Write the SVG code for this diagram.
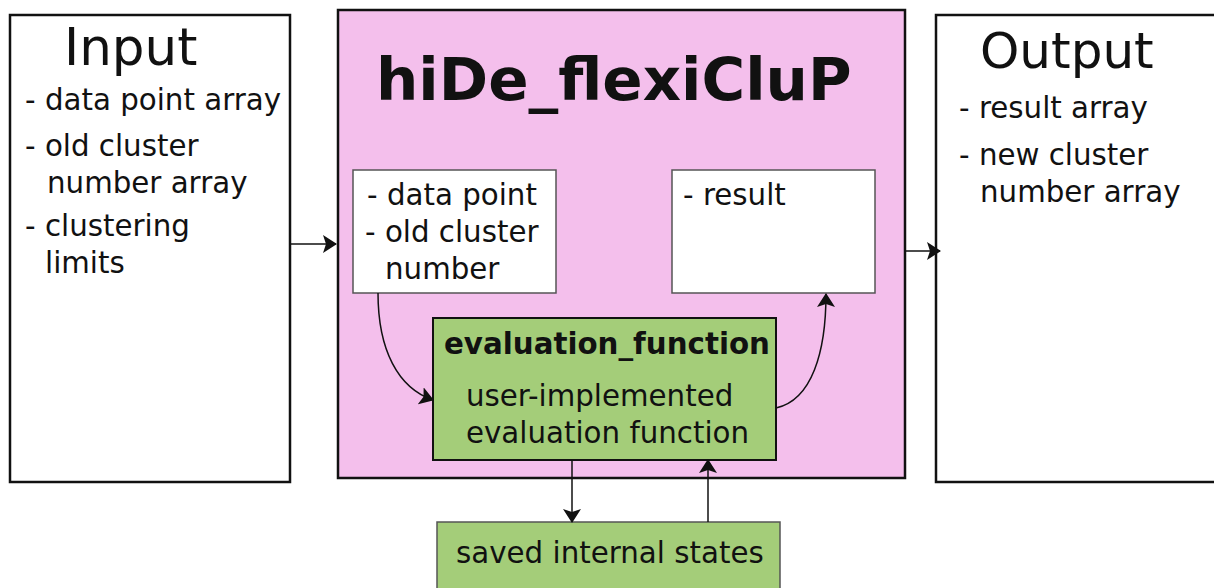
<svg xmlns="http://www.w3.org/2000/svg" width="1214" height="588" viewBox="0 0 1214 588">
  <style>
    text { font-family: "DejaVu Sans", Verdana, sans-serif; fill: #111; }
    .big { font-size: 50px; }
    .title { font-size: 59.5px; font-weight: bold; }
    .item { font-size: 29.3px; }
    .bold { font-size: 29.3px; font-weight: bold; }
    .outer { stroke: #111; stroke-width: 2.5; }
    .inner { stroke: #555; stroke-width: 1.5; }
    .conn { fill: none; stroke: #111; stroke-width: 1.5; }
  </style>
  <defs>
    <marker id="arrowWide" viewBox="0 0 14 18" refX="13" refY="9" markerWidth="14" markerHeight="18" markerUnits="userSpaceOnUse" orient="auto">
      <path d="M0,0 L14,9 L0,18 L3,9 Z" fill="#111"/>
    </marker>
  </defs>

  <rect width="1214" height="588" fill="#fff"/>

  <g id="input">
    <rect class="outer" x="10" y="15" width="280" height="467" fill="#fff"/>
    <text class="big" x="64" y="65" style="font-size:51.5px">Input</text>
    <text class="item" x="25" y="110">- data point array</text>
    <text class="item" x="25" y="156">- old cluster</text>
    <text class="item" x="47" y="193">number array</text>
    <text class="item" x="25" y="236">- clustering</text>
    <text class="item" x="45" y="273">limits</text>
  </g>

  <g id="hide-flexiclup">
    <rect class="outer" x="338" y="10" width="567" height="468" fill="#f4bfec"/>
    <text class="title" x="376" y="100">hiDe_flexiCluP</text>
  </g>

  <g id="data-point">
    <rect class="inner" x="353" y="170" width="203" height="123" fill="#fff"/>
    <text class="item" x="367" y="205">- data point</text>
    <text class="item" x="365" y="242">- old cluster</text>
    <text class="item" x="385" y="279">number</text>
  </g>

  <g id="result">
    <rect class="inner" x="672" y="170" width="203" height="123" fill="#fff"/>
    <text class="item" x="683" y="205">- result</text>
  </g>

  <g id="evaluation-function">
    <rect class="outer" x="433" y="318" width="343" height="142" fill="#a4cd79" style="stroke-width:2"/>
    <text class="bold" x="444" y="354">evaluation_function</text>
    <text class="item" x="466" y="406">user-implemented</text>
    <text class="item" x="466" y="443">evaluation function</text>
  </g>

  <g id="saved-states">
    <rect class="inner" x="437" y="522" width="343" height="80" fill="#a4cd79"/>
    <text class="item" x="456" y="563">saved internal states</text>
  </g>

  <g id="output">
    <rect class="outer" x="936" y="15" width="290" height="467" fill="#fff"/>
    <text class="big" x="980" y="68">Output</text>
    <text class="item" x="959" y="118">- result array</text>
    <text class="item" x="959" y="165">- new cluster</text>
    <text class="item" x="980" y="202">number array</text>
  </g>

  <g id="connectors">
    <path class="conn" d="M290,244 L336,244" marker-end="url(#arrowWide)"/>
    <path class="conn" d="M905,251 L940,251" marker-end="url(#arrowWide)"/>
    <path class="conn" d="M378,293 C378,350 398,388 433,400" marker-end="url(#arrowWide)"/>
    <path class="conn" d="M776,408 C812,400 826,352 826,294" marker-end="url(#arrowWide)"/>
    <path class="conn" d="M572,460 L572,522" marker-end="url(#arrowWide)"/>
    <path class="conn" d="M708,522 L708,460" marker-end="url(#arrowWide)"/>
  </g>
</svg>
